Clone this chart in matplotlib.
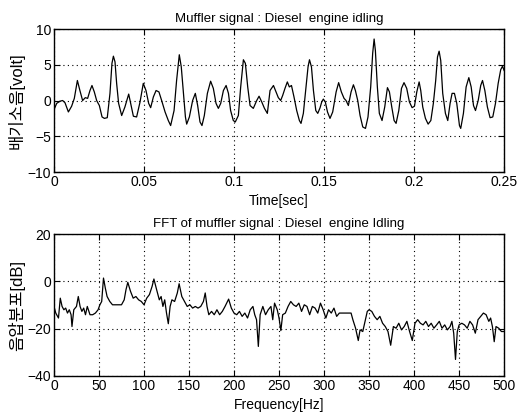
import matplotlib
matplotlib.use('Agg')
import matplotlib.pyplot as plt

plt.rcParams['font.family'] = ['Liberation Sans', 'Noto Sans CJK KR']

# muffler signal (time [s], volt)
t_sig = [0.0000, 0.0015, 0.0033, 0.0048, 0.0061, 0.0080, 0.0098, 0.0113, 0.0130, 0.0144,
         0.0159, 0.0174, 0.0187, 0.0200, 0.0211, 0.0224, 0.0237, 0.0252, 0.0267, 0.0280,
         0.0296, 0.0311, 0.0322, 0.0330, 0.0339, 0.0348, 0.0359, 0.0376, 0.0394, 0.0415,
         0.0430, 0.0441, 0.0459, 0.0478, 0.0496, 0.0511, 0.0526, 0.0537, 0.0552, 0.0567,
         0.0583, 0.0598, 0.0617, 0.0635, 0.0648, 0.0667, 0.0681, 0.0696, 0.0707, 0.0719,
         0.0730, 0.0737, 0.0752, 0.0770, 0.0785, 0.0798, 0.0811, 0.0822, 0.0835, 0.0852,
         0.0870, 0.0885, 0.0900, 0.0913, 0.0926, 0.0941, 0.0956, 0.0969, 0.0981, 0.0996,
         0.1007, 0.1024, 0.1037, 0.1052, 0.1063, 0.1076, 0.1089, 0.1107, 0.1126, 0.1139,
         0.1154, 0.1169, 0.1185, 0.1200, 0.1219, 0.1233, 0.1246, 0.1259, 0.1270, 0.1283,
         0.1296, 0.1307, 0.1319, 0.1333, 0.1348, 0.1363, 0.1372, 0.1385, 0.1400, 0.1411,
         0.1419, 0.1430, 0.1441, 0.1454, 0.1465, 0.1478, 0.1487, 0.1496, 0.1507, 0.1519,
         0.1533, 0.1548, 0.1567, 0.1581, 0.1596, 0.1611, 0.1622, 0.1635, 0.1650, 0.1663,
         0.1674, 0.1687, 0.1700, 0.1715, 0.1730, 0.1744, 0.1759, 0.1770, 0.1778, 0.1785,
         0.1796, 0.1807, 0.1822, 0.1837, 0.1852, 0.1863, 0.1876, 0.1889, 0.1900, 0.1915,
         0.1930, 0.1944, 0.1959, 0.1974, 0.1989, 0.2002, 0.2015, 0.2028, 0.2037, 0.2048,
         0.2063, 0.2078, 0.2093, 0.2107, 0.2120, 0.2130, 0.2139, 0.2148, 0.2159, 0.2174,
         0.2187, 0.2200, 0.2211, 0.2224, 0.2237, 0.2252, 0.2259, 0.2274, 0.2289, 0.2304,
         0.2317, 0.2330, 0.2341, 0.2356, 0.2370, 0.2380, 0.2393, 0.2407, 0.2422, 0.2437,
         0.2452, 0.2467, 0.2481, 0.2491, 0.2500]
v_sig = [-1.3, -0.4, -0.1, 0.0, -0.3, -1.6, -0.8, 0.3, 2.8, 1.4,
         0.0, 0.4, 0.3, 1.4, 2.1, 1.2, 0.0, -0.7, -2.3, -2.5,
         -2.4, 1.0, 5.2, 6.2, 5.4, 2.4, -0.4, -2.1, -0.9, 0.9,
         -0.9, -2.2, -2.3, -0.2, 2.4, 1.4, -0.4, -1.0, 0.5, 1.4,
         1.2, 0.0, -1.6, -2.8, -3.5, -1.4, 2.8, 6.4, 4.7, 1.0,
         -2.3, -3.3, -2.3, 0.0, 1.0, -0.7, -3.0, -3.5, -2.1, 1.0,
         2.7, 1.7, -0.4, -1.1, -0.4, 1.4, 2.1, 1.0, -1.4, -2.8,
         -3.0, -2.1, 1.9, 5.7, 5.2, 1.9, -0.7, -1.1, 0.0, 0.6,
         -0.2, -1.1, -1.8, 1.4, 2.1, 1.2, 0.4, 0.0, 0.7, 1.7,
         2.6, 1.9, 2.1, 0.5, -1.4, -2.8, -3.2, -1.8, 1.9, 4.7,
         5.7, 4.7, 1.4, -1.4, -1.8, -1.0, -0.2, 0.2, -0.2, -1.6,
         -2.5, -1.6, 1.2, 2.5, 1.2, 0.3, 0.0, -0.7, 1.2, 2.2,
         1.4, 0.0, -2.1, -3.7, -3.9, -2.3, 1.9, 6.6, 8.6, 7.0,
         1.9, -1.8, -2.8, -0.9, 1.8, 1.2, -0.9, -2.8, -3.2, -1.4,
         1.7, 2.5, 1.7, -0.2, -1.0, -0.8, 1.2, 2.6, 1.4, -0.9,
         -2.5, -3.3, -2.8, -0.4, 2.8, 6.1, 6.9, 5.6, 1.0, -1.8,
         -2.8, -0.4, 1.0, 1.0, -0.4, -3.5, -3.9, -1.8, 1.9, 3.2,
         1.9, -0.7, -1.4, 0.0, 2.1, 2.8, 1.4, -0.9, -2.4, -2.3,
         -0.4, 2.4, 4.3, 4.8, 4.2]

# FFT spectrum (Hz, dB)
f_fft = [0, 2, 5, 7, 9, 11, 13, 15, 17, 19, 20, 22, 25, 27, 29, 31, 33, 35, 37, 40,
         43, 46, 49, 51, 53, 55, 57, 59, 62, 65, 70, 75, 78, 80, 82, 85, 88, 91, 94, 97,
         100, 103, 106, 109, 111, 114, 117, 119, 121, 123, 125, 127, 129, 131, 134, 137, 139, 142, 145, 148,
         151, 154, 157, 160, 163, 166, 168, 170, 172, 175, 178, 181, 184, 187, 190, 194, 197, 200, 203, 206,
         209, 212, 215, 218, 221, 223, 225, 227, 229, 232, 235, 238, 241, 243, 245, 248, 250, 252, 254, 257,
         260, 263, 266, 269, 272, 275, 278, 281, 284, 287, 290, 293, 296, 299, 302, 305, 308, 311, 314, 317,
         320, 325, 328, 330, 332, 335, 338, 340, 343, 346, 348, 350, 353, 356, 359, 362, 365, 368, 371, 374,
         377, 380, 383, 386, 389, 392, 395, 398, 401, 404, 407, 410, 413, 416, 419, 422, 425, 428, 431, 434,
         437, 440, 442, 444, 446, 448, 450, 453, 456, 459, 462, 465, 468, 471, 474, 477, 480, 483, 485, 487,
         489, 491, 494, 497, 500]
db_fft = [-10.6, -13.4, -15.5, -7.1, -10.6, -12.0, -11.3, -13.4, -12.0, -14.1, -19.1, -12.0, -10.6, -6.4, -10.6, -12.7, -11.3, -14.1, -10.6, -14.1,
          -14.1, -13.4, -12.0, -9.9, -8.5, 1.4, -2.8, -6.4, -8.5, -9.9, -9.9, -9.9, -7.8, -3.5, -0.4, -4.2, -7.1, -6.4, -7.8, -8.5,
          -9.9, -7.1, -5.6, -2.1, 1.0, -3.5, -7.8, -6.4, -10.6, -7.8, -13.4, -17.9, -10.6, -7.8, -8.5, -4.9, -1.0, -6.4, -8.5, -10.6,
          -9.9, -11.3, -10.6, -11.3, -10.6, -8.5, -4.9, -10.6, -14.1, -12.7, -14.1, -12.0, -14.1, -12.7, -10.6, -7.5, -11.3, -13.4, -14.1, -12.7,
          -14.8, -13.4, -15.5, -12.0, -10.6, -14.1, -16.2, -27.5, -14.1, -10.6, -14.1, -12.0, -10.6, -16.2, -9.2, -12.0, -15.5, -20.8, -14.1, -13.4,
          -10.6, -8.5, -9.9, -10.6, -9.2, -12.7, -9.9, -10.6, -14.1, -10.6, -11.3, -13.4, -9.2, -12.0, -15.5, -12.0, -13.4, -11.3, -14.8, -13.4,
          -13.4, -13.4, -13.4, -13.4, -16.2, -19.8, -25.0, -20.5, -21.2, -16.2, -12.7, -12.0, -12.7, -14.8, -16.2, -14.8, -17.7, -19.1, -21.2, -27.0,
          -19.1, -19.8, -17.7, -20.5, -19.1, -16.9, -21.2, -25.0, -17.7, -16.2, -17.7, -18.4, -16.9, -19.1, -17.7, -19.8, -18.4, -16.9, -19.8, -18.4,
          -20.5, -19.1, -16.9, -21.9, -33.0, -21.2, -18.4, -17.7, -18.4, -19.8, -16.9, -18.4, -21.9, -16.2, -14.8, -13.4, -14.1, -16.9, -15.5, -19.1,
          -25.5, -19.1, -19.8, -21.2, -21.2]

fig = plt.figure(figsize=(5.18, 4.15), dpi=100)

ax1 = fig.add_axes([0.1042, 0.5855, 0.869, 0.3446])
ax1.plot(t_sig, v_sig, color='black', lw=0.9)
ax1.set_xlim(0, 0.25)
ax1.set_ylim(-10, 10)
ax1.set_xticks([0, 0.05, 0.1, 0.15, 0.2, 0.25])
ax1.set_xticklabels(['0', '0.05', '0.1', '0.15', '0.2', '0.25'])
ax1.set_yticks([-10, -5, 0, 5, 10])
ax1.set_title('Muffler signal : Diesel  engine idling', fontsize=9.5, pad=5)
ax1.set_xlabel('Time[sec]', fontsize=10, labelpad=4)
ax1.set_ylabel('배기소음[volt]', fontsize=12, labelpad=2)

ax2 = fig.add_axes([0.1042, 0.094, 0.869, 0.342])
ax2.plot(f_fft, db_fft, color='black', lw=0.9)
ax2.set_xlim(0, 500)
ax2.set_ylim(-40, 20)
ax2.set_xticks(range(0, 501, 50))
ax2.set_yticks([-40, -20, 0, 20])
ax2.set_title('FFT of muffler signal : Diesel  engine Idling', fontsize=9.5, pad=5)
ax2.set_xlabel('Frequency[Hz]', fontsize=10, labelpad=4)
ax2.set_ylabel('음압분포[dB]', fontsize=12, labelpad=2)

for ax in (ax1, ax2):
    ax.grid(True, color='black', linestyle=(0, (1, 3)), linewidth=0.8)
    ax.tick_params(direction='in', top=True, right=True, labelsize=10, length=4, pad=2)
    for s in ax.spines.values():
        s.set_linewidth(1.0)

fig.savefig('out.png', dpi=100)
